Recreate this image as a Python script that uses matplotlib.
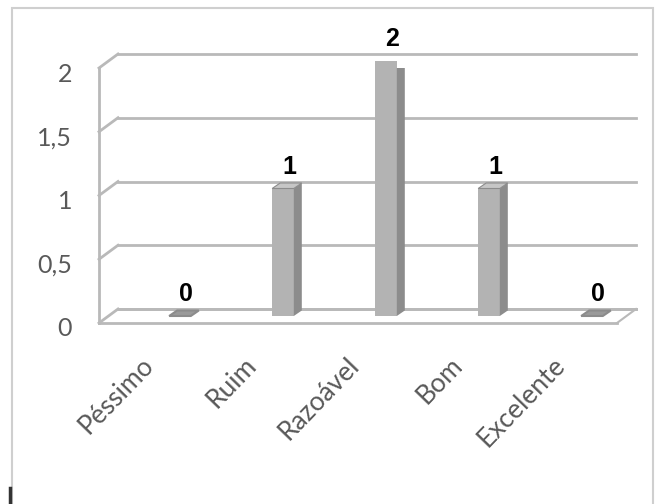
import numpy as np
import matplotlib
matplotlib.use('Agg')
import matplotlib.pyplot as plt
from matplotlib.patches import Polygon, Rectangle
from matplotlib.lines import Line2D
from matplotlib.transforms import offset_copy

# data
categories = ['Péssimo', 'Ruim', 'Razoável', 'Bom', 'Excelente']
values = [0, 1, 2, 1, 0]
y_ticks = [0, 0.5, 1, 1.5, 2]
y_tick_labels = ['0', '0,5', '1', '1,5', '2']

# style
bar_face = '#b3b3b3'
bar_side = '#8c8c8c'
bar_top = '#c6c6c6'
grid_col = '#b9b9b9'
text_col = '#595959'
depth = (19, 14)          # pixels, front plane -> back wall
bar_depth = (8, 5.5)      # pixels, thickness of a bar
bar_w = 0.21
W, H = 658, 504

fig = plt.figure(figsize=(W / 100, H / 100), dpi=100)
ax = fig.add_axes([99 / W, 181 / H, 518 / W, 255 / H])
ax.set_xlim(-0.694, 4.335)
ax.set_ylim(0, 2)
ax.axis('off')

def shifted(dx, dy, base=None):
    return offset_copy(base or ax.transData, fig=fig, x=dx, y=dy, units='dots')

def fig_line(p, q, **kw):
    fig.add_artist(Line2D([p[0] / W, q[0] / W], [p[1] / H, q[1] / H], **kw))

back = shifted(*depth)
mid = shifted(depth[0] / 2, depth[1] / 2)
x0, x1 = ax.get_xlim()

# floor slab
ax.plot([x0, x1], [0, 0], color=grid_col, lw=2, clip_on=False)
ax.plot([x0, x1], [0, 0], color=grid_col, lw=2, transform=back, clip_on=False)
fig_line(ax.transData.transform((x1, 0)), back.transform((x1, 0)), color=grid_col, lw=1.5)

# grid on back wall + side wall diagonals
for v in y_ticks:
    ax.plot([x0, x1], [v, v], color=grid_col, lw=2, transform=back, clip_on=False)
    fig_line(ax.transData.transform((x0, v)), back.transform((x0, v)), color=grid_col, lw=2)
ax.plot([x0, x0], [0, 2], color=grid_col, lw=2, clip_on=False)

# 3d bars
d = np.array(bar_depth)
for i, v in enumerate(values):
    ax.bar(i, v, width=bar_w, color=bar_face, transform=mid, clip_on=False, zorder=3)
    br = mid.transform((i + bar_w / 2, 0))
    tl = mid.transform((i - bar_w / 2, v))
    tr = mid.transform((i + bar_w / 2, v))
    ax.add_patch(Polygon([br, tr, tr + d, br + d], closed=True, fc=bar_side, ec='none',
                         transform=None, zorder=3))
    top_fc = bar_top if v > 0 else '#9a9a9a'
    ax.add_patch(Polygon([tl, tr, tr + d, tl + d], closed=True, fc=top_fc, ec=bar_side,
                         lw=0.8 if v > 0 else 1.5, transform=None, zorder=4))
    ax.text(i, v, str(v), transform=shifted(6, 22, mid),
            ha='center', va='center', fontsize=18, fontweight='bold', family='Liberation Sans',
            color='black')

# y tick labels
for v, lab in zip(y_ticks, y_tick_labels):
    ax.text(x0, v, lab, transform=shifted(-27, -6),
            ha='right', va='center', fontsize=18, color=text_col, family='Lato')

# category labels, rotated, ending just left of each bar
for i, cat in enumerate(categories):
    ax.text(i, 0, cat, transform=shifted(-21, -38),
            ha='right', va='center', rotation=46, rotation_mode='anchor',
            fontsize=19, color=text_col, family='Lato')

# chart border and the stray cursor mark
fig.add_artist(Rectangle((12 / W, -0.05), 641 / W, 1.05 - 8 / H, fill=False,
                         ec='#cfcfcf', lw=1.5))
fig.add_artist(Line2D([10 / W, 10 / W], [0, 16 / H], color='#333333', lw=2.5))

fig.savefig('out.png', dpi=100)
